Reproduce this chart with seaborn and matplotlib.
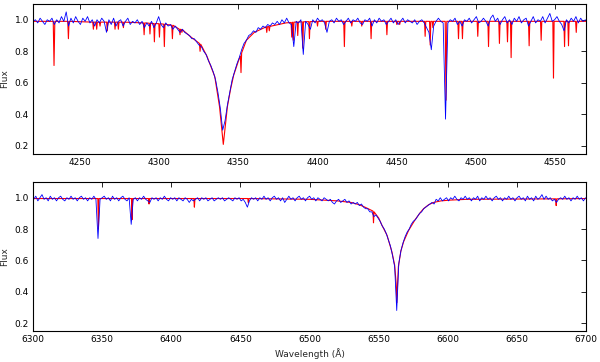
import numpy as np
import pandas as pd
import matplotlib
matplotlib.use("Agg")
import matplotlib.pyplot as plt
import seaborn as sns

# ---------------- data ----------------
# Top panel, observed spectrum (blue), sampled every 1.5 A from 4220
top_obs_start, top_obs_step = 4220.0, 1.5
top_obs_flux = [
    0.99, 1.00, 0.98, 1.01, 0.99, 0.97, 1.00, 0.99, 1.01, 0.97,
    1.00, 0.98, 1.02, 0.99, 1.05, 0.96, 1.01, 0.98, 1.02, 0.99,
    0.97, 1.01, 0.99, 1.02, 0.98, 1.00, 0.96, 1.00, 0.98, 1.01,
    0.99, 0.92, 1.00, 0.97, 1.01, 0.96, 0.99, 1.00, 0.96, 0.99,
    1.01, 0.97, 0.99, 0.98, 1.00, 0.97, 0.99, 0.95, 0.98, 0.96,
    0.99, 0.95, 0.98, 1.02, 0.97, 0.95, 0.98, 0.96, 0.97, 0.94,
    0.96, 0.94, 0.92, 0.94, 0.92, 0.91, 0.90, 0.88, 0.88, 0.86,
    0.84, 0.83, 0.80, 0.78, 0.74, 0.71, 0.67, 0.62, 0.54, 0.44,
    0.30, 0.36, 0.46, 0.54, 0.62, 0.67, 0.72, 0.76, 0.81, 0.85,
    0.87, 0.90, 0.91, 0.93, 0.92, 0.95, 0.94, 0.96, 0.95, 0.97,
    0.96, 0.98, 0.97, 0.99, 0.97, 1.00, 0.98, 1.01, 0.98, 0.97,
    0.83, 0.99, 0.98, 1.00, 0.78, 0.99, 0.97, 0.94, 1.00, 0.98,
    1.01, 0.99, 1.00, 0.98, 0.92, 0.99, 1.00, 0.98, 1.01, 0.99,
    1.00, 0.97, 0.99, 1.01, 0.98, 1.00, 0.99, 1.01, 0.98, 0.97,
    1.00, 0.99, 1.01, 0.96, 1.00, 0.98, 1.01, 0.99, 1.00, 0.97,
    0.99, 1.01, 0.98, 1.00, 0.97, 0.99, 1.01, 0.98, 1.00, 0.99,
    0.98, 1.00, 0.97, 0.99, 1.00, 0.98, 0.95, 0.92, 0.81, 0.96,
    0.99, 1.01, 0.99, 0.98, 0.37, 0.98, 1.00, 0.99, 1.01, 0.97,
    0.99, 0.96, 1.00, 0.99, 1.01, 0.98, 1.00, 1.02, 0.98, 0.99,
    1.01, 0.99, 0.96, 1.01, 1.03, 0.99, 1.01, 0.97, 1.00, 1.02,
    0.98, 1.00, 0.97, 1.01, 0.99, 1.02, 0.98, 1.00, 1.01, 0.96,
    0.99, 1.02, 0.98, 1.00, 0.99, 1.02, 0.98, 1.01, 1.04, 0.99,
    1.00, 1.02, 0.99, 0.97, 0.93, 1.00, 0.98, 1.01, 0.99, 1.02,
    0.98, 1.01, 0.99, 1.00,
]

# Top panel, model spectrum (red): wavelength / flux vertices
top_model_wl = [
    4220.0,
    4232.8, 4233.3, 4233.8, 4242.0, 4242.4, 4242.8,
    4257.8, 4258.2, 4258.6, 4259.9, 4260.3, 4260.7,
    4262.0, 4262.4, 4262.8, 4266.6, 4267.0, 4267.4,
    4271.5, 4271.9, 4272.3, 4273.6, 4274.0, 4274.4,
    4276.8, 4277.2, 4277.6, 4289.9, 4290.3, 4290.7,
    4293.6, 4294.0, 4294.4, 4296.4, 4296.8, 4297.2,
    4299.6, 4300.0, 4300.4, 4302.7, 4303.1, 4303.5,
    4307.8, 4308.2, 4308.6, 4312.6, 4313.0, 4313.4,
    4313.8, 4314.2, 4314.6, 4320.0,
    4325.3, 4325.7, 4326.1, 4330.0, 4335.0, 4338.0, 4340.4,
    4343.0, 4345.0, 4347.0, 4350.0, 4351.2, 4351.6, 4352.0,
    4355.0, 4360.0, 4367.5, 4367.9, 4368.3, 4369.1, 4369.5, 4369.9,
    4380.0, 4383.3, 4383.7, 4384.1, 4384.3, 4384.7, 4385.1,
    4387.1, 4387.5, 4387.9, 4390.3, 4390.7, 4391.1,
    4394.5, 4394.9, 4395.3, 4399.6, 4400.0, 4400.4,
    4404.8, 4405.2, 4405.6, 4416.6, 4417.0, 4417.4,
    4421.3, 4421.7, 4422.1, 4427.6, 4428.0, 4428.4,
    4433.5, 4433.9, 4434.3, 4443.5, 4443.9, 4444.3,
    4449.8, 4450.2, 4450.6, 4451.6, 4452.0, 4452.4,
    4467.7, 4468.1, 4468.5, 4470.9, 4471.3, 4471.7,
    4472.6, 4473.0, 4473.4, 4480.8, 4481.3, 4481.8,
    4488.8, 4489.2, 4489.6, 4491.3, 4491.7, 4492.1,
    4501.0, 4501.4, 4501.8, 4507.8, 4508.2, 4508.6,
    4514.7, 4515.1, 4515.5, 4519.8, 4520.2, 4520.6,
    4522.1, 4522.5, 4522.9, 4533.5, 4533.9, 4534.3,
    4541.1, 4541.5, 4541.9, 4548.9, 4549.3, 4549.7,
    4555.9, 4556.3, 4556.7, 4558.4, 4558.8, 4559.2,
    4563.3, 4563.7, 4564.1, 4570.0,
]
top_model_flux = [
    0.990,
    0.990, 0.710, 0.990, 0.990, 0.880, 0.990,
    0.985, 0.940, 0.985, 0.985, 0.940, 0.985,
    0.985, 0.960, 0.985, 0.985, 0.930, 0.985,
    0.985, 0.940, 0.985, 0.985, 0.940, 0.985,
    0.985, 0.950, 0.985, 0.980, 0.905, 0.980,
    0.978, 0.910, 0.978, 0.976, 0.860, 0.976,
    0.975, 0.890, 0.975, 0.972, 0.830, 0.972,
    0.965, 0.880, 0.965, 0.940, 0.905, 0.940,
    0.938, 0.920, 0.936, 0.890,
    0.850, 0.800, 0.845, 0.770, 0.640, 0.450, 0.210,
    0.450, 0.560, 0.650, 0.740, 0.770, 0.665, 0.790,
    0.870, 0.920, 0.955, 0.920, 0.956, 0.957, 0.930, 0.958,
    0.980, 0.983, 0.890, 0.984, 0.984, 0.870, 0.985,
    0.985, 0.900, 0.986, 0.987, 0.820, 0.987,
    0.988, 0.880, 0.988, 0.990, 0.960, 0.990,
    0.990, 0.940, 0.990, 0.990, 0.830, 0.990,
    0.990, 0.960, 0.990, 0.990, 0.960, 0.990,
    0.990, 0.880, 0.990, 0.990, 0.905, 0.990,
    0.990, 0.970, 0.990, 0.990, 0.970, 0.990,
    0.990, 0.895, 0.990, 0.990, 0.840, 0.990,
    0.990, 0.950, 0.990, 0.990, 0.490, 0.990,
    0.990, 0.880, 0.990, 0.990, 0.880, 0.990,
    0.990, 0.895, 0.990, 0.990, 0.830, 0.990,
    0.990, 0.850, 0.990, 0.990, 0.860, 0.990,
    0.990, 0.760, 0.990, 0.990, 0.835, 0.990,
    0.990, 0.870, 0.990, 0.990, 0.630, 0.990,
    0.990, 0.830, 0.990, 0.990, 0.835, 0.990,
    0.990, 0.920, 0.990, 0.990,
]

# Bottom panel, observed spectrum (blue), sampled every 1.5 A from 6300.5
bot_obs_start, bot_obs_step = 6300.5, 1.5
bot_obs_flux = [
    0.99, 1.01, 0.98, 1.00, 1.02, 0.99, 1.00, 0.98, 1.01, 0.99,
    1.00, 0.98, 1.00, 1.01, 0.99, 0.98, 1.00, 0.99, 1.01, 0.99,
    1.00, 0.98, 1.00, 1.01, 0.99, 1.00, 0.98, 1.00, 0.99, 1.01,
    0.99, 0.74, 0.99, 1.00, 1.01, 0.99, 1.00, 0.98, 1.01, 0.99,
    1.00, 0.98, 1.00, 1.01, 0.99, 0.98, 1.00, 0.83, 0.99, 1.00,
    0.98, 1.00, 0.99, 1.01, 0.99, 0.98, 0.97, 1.00, 0.99, 1.00,
    0.98, 1.00, 0.99, 1.01, 0.99, 0.98, 1.00, 0.99, 1.00, 0.98,
    1.00, 0.99, 0.98, 1.00, 0.99, 0.97, 0.99, 0.98, 0.99, 1.00,
    0.98, 1.00, 0.99, 1.00, 0.98, 0.99, 1.00, 0.98, 0.99, 1.00,
    0.99, 1.00, 0.98, 0.99, 1.00, 0.99, 0.98, 1.00, 0.99, 1.00,
    0.98, 0.99, 0.97, 0.94, 0.98, 1.00, 0.99, 1.00, 0.98, 1.00,
    0.99, 1.01, 0.99, 1.00, 0.98, 1.00, 1.01, 0.99, 1.00, 0.98,
    1.00, 0.97, 0.99, 1.01, 0.99, 1.00, 0.98, 1.00, 1.01, 0.99,
    1.00, 0.98, 1.00, 1.01, 0.99, 1.00, 0.98, 1.00, 0.99, 0.98,
    1.00, 0.99, 0.98, 0.99, 0.97, 0.96, 0.98, 0.99, 0.97, 0.98,
    0.99, 0.97, 0.98, 0.96, 0.97, 0.96, 0.97, 0.95, 0.96, 0.94,
    0.93, 0.93, 0.91, 0.91, 0.88, 0.89, 0.87, 0.85, 0.82, 0.80,
    0.77, 0.73, 0.69, 0.63, 0.56, 0.28, 0.58, 0.66, 0.71, 0.75,
    0.78, 0.80, 0.83, 0.85, 0.86, 0.88, 0.90, 0.91, 0.93, 0.94,
    0.95, 0.96, 0.97, 0.96, 0.99, 0.98, 1.00, 0.98, 0.99, 1.00,
    0.98, 1.00, 0.99, 1.01, 0.99, 0.98, 1.00, 0.99, 1.01, 0.99,
    1.00, 0.98, 1.00, 0.99, 1.01, 0.98, 1.00, 0.99, 1.01, 0.99,
    1.00, 0.98, 1.00, 1.01, 0.99, 1.00, 0.98, 1.00, 0.99, 1.01,
    0.99, 1.00, 0.98, 1.00, 1.01, 0.99, 1.00, 0.98, 1.01, 0.99,
    1.00, 0.98, 1.01, 0.99, 1.00, 1.02, 0.99, 1.01, 0.99, 1.00,
    0.98, 0.99, 0.97, 0.99, 1.00, 0.99, 1.01, 0.99, 1.00, 0.98,
    1.00, 0.99, 1.01, 0.99, 1.00, 0.98, 1.00,
]

# Bottom panel, model spectrum (red)
bot_model_wl = [
    6300.0,
    6346.9, 6347.3, 6347.7, 6371.2, 6371.6, 6372.0,
    6383.5, 6383.9, 6384.3, 6416.3, 6416.7, 6417.1,
    6455.3, 6455.7, 6456.1,
    6500.0, 6520.0, 6530.0, 6536.0, 6540.0,
    6545.8, 6546.2, 6546.6, 6550.0, 6552.0, 6556.0, 6559.5, 6561.5,
    6562.6, 6563.1, 6563.6, 6564.2, 6566.0, 6568.0, 6571.5, 6576.3,
    6580.0, 6582.4, 6586.0, 6589.6, 6595.0, 6601.7, 6614.0,
    6677.9, 6678.3, 6678.7, 6700.0,
]
bot_model_flux = [
    0.995,
    0.995, 0.800, 0.995, 0.995, 0.860, 0.995,
    0.995, 0.960, 0.995, 0.995, 0.940, 0.995,
    0.995, 0.970, 0.995,
    0.990, 0.980, 0.970, 0.955, 0.940,
    0.915, 0.840, 0.910, 0.870, 0.830, 0.760, 0.655, 0.570,
    0.450, 0.330, 0.450, 0.560, 0.660, 0.720, 0.790, 0.860,
    0.905, 0.930, 0.955, 0.970, 0.980, 0.985, 0.990,
    0.993, 0.950, 0.993, 0.995,
]

top_xlim, bot_xlim = (4220, 4570), (6300, 6700)
flux_ylim = (0.15, 1.10)
top_xticks = [4250, 4300, 4350, 4400, 4450, 4500, 4550]
bot_xticks = [6300, 6350, 6400, 6450, 6500, 6550, 6600, 6650, 6700]
yticks = [0.2, 0.4, 0.6, 0.8, 1.0]

# ---------------- build tables ----------------
top_obs = pd.DataFrame({
    "wl": top_obs_start + top_obs_step * np.arange(len(top_obs_flux)),
    "flux": top_obs_flux})
bot_obs = pd.DataFrame({
    "wl": bot_obs_start + bot_obs_step * np.arange(len(bot_obs_flux)),
    "flux": bot_obs_flux})
top_mod = pd.DataFrame({"wl": top_model_wl, "flux": top_model_flux})
bot_mod = pd.DataFrame({"wl": bot_model_wl, "flux": bot_model_flux})

# ---------------- plot ----------------
sns.set_style("white")
plt.rcParams["font.family"] = ["DejaVu Sans"]
plt.rcParams["font.size"] = 6.5
plt.rcParams["axes.linewidth"] = 0.8
plt.rcParams["axes.edgecolor"] = "black"

fig = plt.figure(figsize=(6.0, 3.62), dpi=100)
ax1 = fig.add_axes([0.055, 0.575, 0.922, 0.414])
ax2 = fig.add_axes([0.055, 0.086, 0.922, 0.411])

for ax, mod, obs, xlim, xt in [(ax1, top_mod, top_obs, top_xlim, top_xticks),
                               (ax2, bot_mod, bot_obs, bot_xlim, bot_xticks)]:
    sns.lineplot(data=mod, x="wl", y="flux", ax=ax, color=(1, 0, 0),
                 linewidth=0.8, estimator=None, sort=False)
    sns.lineplot(data=obs, x="wl", y="flux", ax=ax, color=(0, 0, 1),
                 linewidth=0.6, estimator=None, sort=False)
    ax.set_xlim(*xlim)
    ax.set_ylim(*flux_ylim)
    ax.set_xticks(xt)
    ax.set_yticks(yticks)
    ax.set_yticklabels([f"{v:.1f}" for v in yticks])
    ax.tick_params(direction="in", top=True, right=True, length=3.5,
                   width=0.6, labelsize=6.5, colors="black", pad=3)
    ax.set_ylabel("Flux", fontsize=6.5, labelpad=4)
    ax.set_xlabel("")
    for s in ax.spines.values():
        s.set_visible(True)
        s.set_color("black")

ax2.set_xlabel("Wavelength (Å)", fontsize=6.5, labelpad=3)

fig.savefig("out.png", dpi=100)
